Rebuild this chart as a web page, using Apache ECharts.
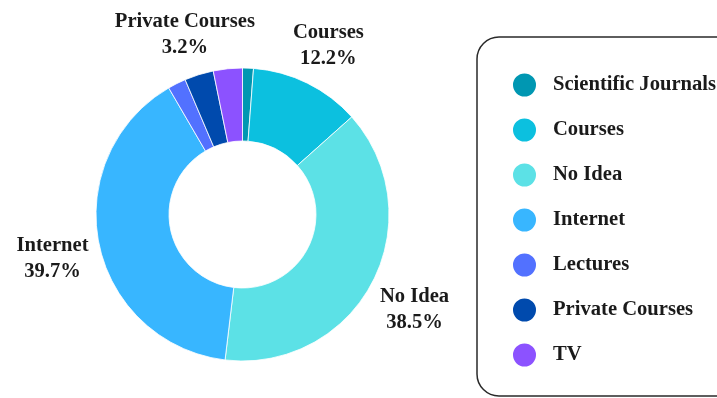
<!DOCTYPE html>
<html>
<head>
<meta charset="utf-8">
<script src="https://cdn.jsdelivr.net/npm/echarts@6/dist/echarts.min.js"></script>
<style>
html,body{margin:0;padding:0;background:#fff;}
#chart{width:717px;height:398px;}
</style>
</head>
<body>
<div id="chart"></div>
<script>
const categories = ['Scientific Journals', 'Courses', 'No Idea', 'Internet', 'Lectures', 'Private Courses', 'TV'];
const values = [1.2, 12.2, 38.5, 39.7, 2.0, 3.2, 3.2];
const colors = ['#0097B2', '#0CC0DF', '#5CE1E6', '#38B6FF', '#5271FF', '#004AAD', '#8C52FF'];
const labelled = ['Courses', 'No Idea', 'Internet', 'Private Courses'];

const FONT = '"Liberation Serif", "Times New Roman", serif';

const chart = echarts.init(document.getElementById('chart'), null, {renderer: 'canvas'});

const mainData = categories.map((n, i) => ({name: n, value: values[i], itemStyle: {color: colors[i]}}));
const labelData = categories.map((n, i) => ({
  name: n, value: values[i],
  label: {show: labelled.indexOf(n) >= 0}
}));

chart.setOption({
  animation: false,
  legend: {
    orient: 'vertical',
    left: 477,
    top: 37,
    height: 330,
    icon: 'circle',
    itemWidth: 25,
    itemHeight: 25,
    itemGap: 18,
    padding: [34.5, 24, 27.5, 34],
    borderColor: '#2a2a2a',
    borderWidth: 1.5,
    borderRadius: 22,
    data: categories,
    textStyle: {
      fontFamily: FONT,
      fontWeight: 'bold',
      fontSize: 20.6,
      lineHeight: 22,
      color: '#1a1a1a',
      padding: [0, 0, 0, 11]
    }
  },
  series: [
    {
      type: 'pie',
      center: [242.5, 214.5],
      radius: [73.5, 146.5],
      startAngle: 90,
      clockwise: true,
      legendHoverLink: false,
      label: {show: false},
      labelLine: {show: false},
      itemStyle: {borderColor: '#ffffff', borderWidth: 0.8},
      data: mainData
    },
    {
      type: 'pie',
      center: [242.5, 214.5],
      radius: [168, 214],
      startAngle: 90,
      clockwise: true,
      silent: true,
      itemStyle: {color: 'rgba(0,0,0,0)'},
      labelLine: {show: false},
      labelLayout: function () { return {dy: 5}; },
      label: {
        position: 'inside',
        rotate: 0,
        formatter: '{a|{b}}\n{a|{c}%}',
        rich: {
          a: {
            fontFamily: FONT,
            fontWeight: 'bold',
            fontSize: 20.6,
            lineHeight: 26,
            color: '#1a1a1a',
            align: 'center'
          }
        }
      },
      data: labelData
    }
  ]
});
</script>
</body>
</html>
